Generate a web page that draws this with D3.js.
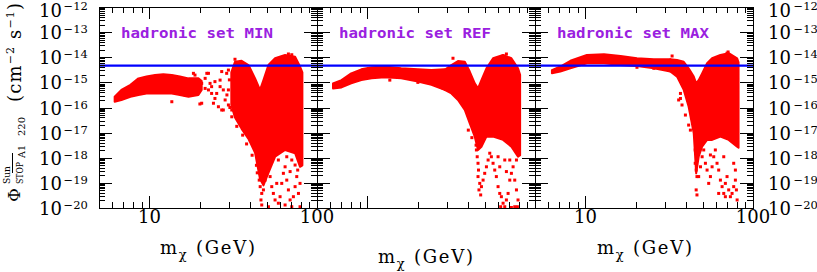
<!DOCTYPE html>
<html><head><meta charset="utf-8">
<script src="https://cdn.jsdelivr.net/npm/d3@7"></script>
<style>body{margin:0;background:#fff}svg{display:block}</style>
</head><body>
<script>
// ---------------- DATA ----------------
const panelNames = ["hadronic set MIN", "hadronic set REF", "hadronic set MAX"];
const xDomain = [5, 100];
const yDomain = [1e-20, 1e-12];
const yDecades = [-12, -13, -14, -15, -16, -17, -18, -19, -20];
const xTickLabels = [["10", "100"], [], ["10", "100"]];
const limitFlux = 4.6e-15;

// dense band of models (mass in GeV, log10 flux upper / lower edge)
const minArcMass = [6.2, 6.8, 7.7, 8.6, 9.6, 10.8, 12.1, 13.6, 15.2, 17.1, 19.6, 20.5];
const minArcHi   = [-15.57, -15.30, -15.10, -14.84, -14.77, -14.71, -14.68, -14.71, -14.77, -14.84, -14.84, -14.95];
const minArcLo   = [-15.77, -15.70, -15.57, -15.50, -15.44, -15.44, -15.44, -15.44, -15.50, -15.57, -15.50, -15.30];
const minCoreMass = [30.8, 32.4, 35.5, 39.0, 42.7, 45.7, 47.9, 51.3, 56.2, 64.5, 74.0, 79.2, 81.8];
const minCoreHi   = [-14.60, -14.18, -14.14, -14.31, -14.84, -15.30, -14.91, -14.31, -14.04, -13.91, -13.98, -14.37, -14.60];
const minCoreLo   = [-15.90, -16.40, -16.85, -17.25, -17.80, -18.85, -19.10, -18.60, -17.96, -17.69, -17.82, -18.36, -18.30];
const minDotMass = [20.5, 21.5, 22.0, 22.5, 23.5, 24.6, 24.1, 25.8, 27.6, 28.3, 29.6, 26.4, 27.0, 28.9, 21.5, 23.0, 24.6, 26.4, 20.5, 18.7, 18.3, 16.3, 13.6, 20.0, 22.5, 23.5, 25.2, 27.6, 31.0, 27.0,
  29.6, 29.6, 30.2, 29.0, 30.0, 31.0, 33.2, 36.0, 38.0, 41.0, 43.5, 44.0,
  40.8, 41.7, 39.9, 44.7, 45.1, 45.7, 45.2, 45.8, 46.8, 46.3, 46.8, 47.9, 49.0, 50.1, 51.3, 52.5, 53.7, 54.9, 56.2, 58.8, 60.2, 61.6, 63.0, 64.5, 66.0, 67.5, 69.1, 70.7, 72.3, 74.0, 75.7, 77.5, 79.2, 76.7, 70.7, 66.0, 58.8, 53.7, 51.3, 49.0, 57.5, 64.5, 69.1, 74.0, 79.2, 32.4, 67.5, 70.7];
const minDotLog  = [-15.04, -14.84, -14.64, -15.30, -15.44, -15.64, -15.83, -15.97, -16.10, -15.70, -15.90, -15.17, -14.57, -14.64, -15.24, -15.04, -14.97, -14.91, -15.83, -14.71, -14.64, -15.50, -15.77, -15.86, -14.64, -15.17, -15.44, -15.30, -16.10, -16.10,
  -14.51, -15.30, -16.00, -15.50, -14.90, -16.37, -16.75, -17.10, -17.45, -17.90, -18.30, -18.60,
  -17.16, -17.43, -17.29, -18.09, -18.36, -18.62, -18.89, -19.15, -19.42, -19.68, -19.88, -19.28, -18.89, -18.62, -18.36, -18.75, -19.15, -19.42, -19.68, -19.81, -19.55, -19.02, -18.62, -18.36, -18.89, -19.28, -19.68, -19.95, -19.55, -19.15, -18.75, -19.42, -19.95, -18.49, -18.09, -17.96, -18.09, -17.96, -19.95, -18.09, -19.02, -19.88, -18.55, -18.29, -19.02, -14.08, -13.87, -13.90];

const refArcMass = [6.23, 7.0, 8.0, 9.2, 10.6, 12.7, 15.9, 20.0, 24.1, 28.9];
const refArcHi   = [-15.04, -14.91, -14.64, -14.48, -14.40, -14.37, -14.44, -14.48, -14.51, -14.48];
const refArcLo   = [-15.24, -15.20, -15.04, -14.91, -14.84, -14.80, -14.84, -14.97, -15.10, -15.30];
const refCoreMass = [28.9, 31.7, 34.7, 38.1, 40.8, 43.7, 45.7, 47.9, 51.3, 56.2, 64.5, 72.3, 79.2, 81.5];
const refCoreHi   = [-14.50, -14.31, -14.15, -14.18, -14.57, -15.04, -15.24, -14.91, -14.44, -14.04, -13.91, -14.04, -14.44, -14.70];
const refCoreLo   = [-15.30, -15.44, -15.70, -16.10, -16.63, -17.16, -17.69, -17.56, -17.16, -17.16, -17.29, -17.56, -17.96, -17.90];
const refDotMass = [13.6, 20.0, 32.4, 67.5, 64.5, 23.0, 25.2, 26.4, 28.3, 29.6, 27.6, 40.0, 42.0, 44.5,
  44.7, 45.2, 45.7, 46.0, 45.7, 46.8, 46.3, 47.4, 47.9, 49.0, 50.1, 51.3, 52.5, 53.7, 54.9, 56.2, 57.5, 58.8, 60.2, 61.6, 63.0, 64.5, 66.0, 67.5, 69.1, 70.7, 72.3, 74.0, 75.7, 77.5, 79.2, 78.5, 62.4, 72.3, 75.7, 61.6, 66.0, 70.7, 67.5, 60.2, 77.5];
const refDotLog  = [-14.91, -15.00, -14.04, -13.87, -13.95, -14.64, -14.57, -15.04, -15.24, -14.91, -14.71, -16.90, -17.20, -17.50,
  -17.69, -17.96, -18.22, -18.49, -18.75, -19.02, -19.28, -19.48, -19.15, -18.89, -18.62, -18.36, -18.09, -17.82, -17.96, -18.22, -18.49, -18.75, -19.15, -19.42, -19.55, -19.81, -19.95, -19.68, -19.42, -18.89, -18.62, -18.36, -18.89, -19.28, -19.68, -19.95, -19.95, -19.98, -19.95, -18.36, -18.09, -18.09, -18.55, -17.96, -18.09];

const maxArcMass = [6.31, 7.08, 8.13, 10.2, 12.9, 16.2, 20.3, 25.6, 32.1];
const maxArcHi   = [-14.51, -14.37, -14.14, -13.91, -13.88, -13.95, -14.04, -14.08, -14.08];
const maxArcLo   = [-14.64, -14.57, -14.44, -14.24, -14.24, -14.31, -14.35, -14.44, -14.57];
const maxCoreMass = [32.1, 35.2, 38.6, 41.3, 44.3, 45.8, 47.4, 49.7, 53.2, 57.0, 63.9, 71.6, 80.4, 82.0];
const maxCoreHi   = [-14.08, -14.11, -14.18, -14.44, -14.77, -15.04, -14.91, -14.64, -14.24, -14.04, -13.91, -13.84, -14.04, -14.20];
const maxCoreLo   = [-14.57, -14.77, -15.30, -15.97, -17.03, -18.62, -17.96, -17.56, -17.29, -17.29, -17.16, -17.29, -17.56, -17.60];
const maxDotMass = [32.9, 20.3, 25.6, 34.4, 70.0, 71.0,
  36.9, 36.9, 37.7, 36.0, 39.5, 41.3, 42.3, 45.2, 45.2, 45.8, 46.3, 45.8, 46.3, 47.4, 48.6, 49.7, 50.8, 52.0, 53.2, 54.4, 55.7, 57.0, 58.3, 59.6, 61.0, 62.4, 63.9, 65.4, 66.9, 68.4, 70.0, 71.6, 73.3, 75.0, 76.7, 78.5, 79.6, 80.4, 62.4, 68.4, 55.7, 66.9, 76.7, 78.5];
const maxDotLog  = [-13.95, -14.40, -14.44, -14.51, -13.84, -13.79,
  -15.44, -15.64, -15.90, -15.70, -16.30, -16.70, -16.90, -17.69, -18.22, -18.49, -18.75, -19.28, -19.48, -18.75, -18.36, -17.96, -17.69, -18.22, -18.49, -19.02, -18.75, -18.36, -17.96, -17.69, -18.22, -18.49, -18.89, -19.15, -19.42, -19.02, -18.75, -19.28, -19.55, -19.42, -19.15, -18.89, -19.28, -19.68, -19.42, -19.55, -17.89, -17.96, -18.22, -18.49];

// ---------------- LAYOUT ----------------
const W = 817, H = 272;
const panelLeft = [99, 317, 535], panelW = 218;
const plotTop = 7, plotBottom = 208;
const panels = [
  {arc: [minArcMass, minArcHi, minArcLo], core: [minCoreMass, minCoreHi, minCoreLo], dots: [minDotMass, minDotLog]},
  {arc: [refArcMass, refArcHi, refArcLo], core: [refCoreMass, refCoreHi, refCoreLo], dots: [refDotMass, refDotLog]},
  {arc: [maxArcMass, maxArcHi, maxArcLo], core: [maxCoreMass, maxCoreHi, maxCoreLo], dots: [maxDotMass, maxDotLog]}
];
const serif = "'DejaVu Serif', serif";
const svg = d3.select("body").append("svg").attr("width", W).attr("height", H);
const y = d3.scaleLog().domain(yDomain).range([plotBottom, plotTop]);

panels.forEach((p, i) => {
  const x = d3.scaleLog().domain(xDomain).range([panelLeft[i], panelLeft[i] + panelW]);
  const g = svg.append("g");
  const clipId = "clip" + i;
  svg.append("clipPath").attr("id", clipId).append("rect")
    .attr("x", x.range()[0]).attr("y", plotTop).attr("width", panelW).attr("height", plotBottom - plotTop);
  const data = g.append("g").attr("clip-path", `url(#${clipId})`);
  const area = d3.area().x(d => x(d[0])).y0(d => y(Math.pow(10, d[2]))).y1(d => y(Math.pow(10, d[1])));
  [p.arc, p.core].forEach(b => {
    const rows = b[0].map((m, k) => [m, b[1][k], b[2][k]]);
    data.append("path").attr("d", area(rows)).attr("fill", "#ff0000")
      .attr("stroke", "#ff0000").attr("stroke-width", 2).attr("stroke-linejoin", "round");
  });
  data.selectAll("rect.dot").data(p.dots[0].map((m, k) => [m, p.dots[1][k]])).join("rect")
    .attr("class", "dot").attr("x", d => x(d[0]) - 1.5).attr("y", d => y(Math.pow(10, d[1])) - 1.5)
    .attr("width", 3).attr("height", 3).attr("fill", "#ff0000");
  // limit line
  g.append("line").attr("x1", x.range()[0]).attr("x2", x.range()[1])
    .attr("y1", y(limitFlux)).attr("y2", y(limitFlux)).attr("stroke", "#0000ff").attr("stroke-width", 2.2);

  // frame
  const ax = g.append("g").attr("stroke", "#000").attr("stroke-width", 1).attr("shape-rendering", "crispEdges");
  ax.append("rect").attr("x", x.range()[0]).attr("y", plotTop).attr("width", panelW).attr("height", plotBottom - plotTop).attr("fill", "none");
  // x ticks
  const xt = [];
  [1, 10].forEach(dec => { for (let k = 1; k <= 9; k++) { const v = k * dec; if (v > 5 && v < 100) xt.push([v, k === 1]); } });
  xt.forEach(([v, major]) => {
    const L = major ? 12 : 6, xx = Math.round(x(v)) + 0.5;
    ax.append("line").attr("x1", xx).attr("x2", xx).attr("y1", plotBottom).attr("y2", plotBottom - L);
    ax.append("line").attr("x1", xx).attr("x2", xx).attr("y1", plotTop).attr("y2", plotTop + L);
  });
  // y ticks
  for (let d = -20; d <= -13; d++) for (let k = 1; k <= 9; k++) {
    if (k === 1 && d === -20) continue;
    const v = k * Math.pow(10, d), major = k === 1, L = major ? 13 : 6, yy = Math.round(y(v)) + 0.5;
    ax.append("line").attr("x1", x.range()[0]).attr("x2", x.range()[0] + L).attr("y1", yy).attr("y2", yy);
    ax.append("line").attr("x1", x.range()[1]).attr("x2", x.range()[1] - L).attr("y1", yy).attr("y2", yy);
  }
  // x tick labels
  xTickLabels[i].forEach(t => {
    g.append("text").attr("x", x(+t)).attr("y", 223).attr("text-anchor", "middle")
      .attr("font-family", serif).attr("font-size", 18).text(t);
  });
  // panel title
  g.append("text").attr("x", x.range()[0] + 22).attr("y", 38)
    .attr("font-family", "'DejaVu Sans Mono', monospace").attr("font-weight", "bold").attr("font-size", 14.5)
    .attr("fill", "#9a20e0").attr("textLength", 152).attr("lengthAdjust", "spacingAndGlyphs").text(panelNames[i]);
  // x axis title
  const tx = [160, 378, 597][i], ty = [254, 263, 254][i];
  const t = g.append("text").attr("x", tx).attr("y", ty).attr("font-family", serif).attr("font-size", 18)
    .attr("textLength", 95).attr("lengthAdjust", "spacing");
  t.append("tspan").text("m");
  t.append("tspan").attr("dy", 5).attr("font-size", 13).text("χ");
  t.append("tspan").attr("dy", -5).text(" (GeV)");
});

// y tick labels (left of first panel, right of last panel)
yDecades.forEach(d => {
  const yy = y(Math.pow(10, d));
  [[62, "end", 63.5], [768, "start", 793.5]].forEach(([bx, anchor, ex]) => {
    svg.append("text").attr("x", bx).attr("y", Math.max(yy + 7, 17)).attr("text-anchor", anchor)
      .attr("font-family", serif).attr("font-size", 18).text("10");
    svg.append("text").attr("x", ex).attr("y", Math.max(yy + 1, 10)).attr("font-family", serif).attr("font-size", 11.5)
      .text("\u2212" + Math.abs(d));
  });
});

// y axis title (rotated pieces)
function rtext(xb, yb, size, str, len) {
  const t = svg.append("text").attr("transform", `translate(${xb},${yb}) rotate(-90)`)
    .attr("font-family", serif).attr("font-size", size).text(str);
  if (len) t.attr("textLength", len).attr("lengthAdjust", "spacingAndGlyphs");
  return t;
}
rtext(20, 202, 17, "\u03A6");
rtext(10, 184, 10, "Sun", 18);
rtext(23, 184, 9, "STOP", 22);
svg.append("line").attr("x1", 12.5).attr("x2", 12.5).attr("y1", 153).attr("y2", 173).attr("stroke", "#000").attr("stroke-width", 1);
rtext(25, 158, 10, "A1", 13);
rtext(25, 136, 10, "220", 19);
const unit = svg.append("text").attr("transform", "translate(21,102) rotate(-90)")
  .attr("font-family", serif).attr("font-size", 18).attr("textLength", 99).attr("lengthAdjust", "spacing");
unit.append("tspan").text("(cm");
unit.append("tspan").attr("dy", -7).attr("font-size", 11).text("\u22122");
unit.append("tspan").attr("dy", 7).text(" s");
unit.append("tspan").attr("dy", -7).attr("font-size", 11).text("\u22121");
unit.append("tspan").attr("dy", 7).text(")");
</script>
</body></html>
